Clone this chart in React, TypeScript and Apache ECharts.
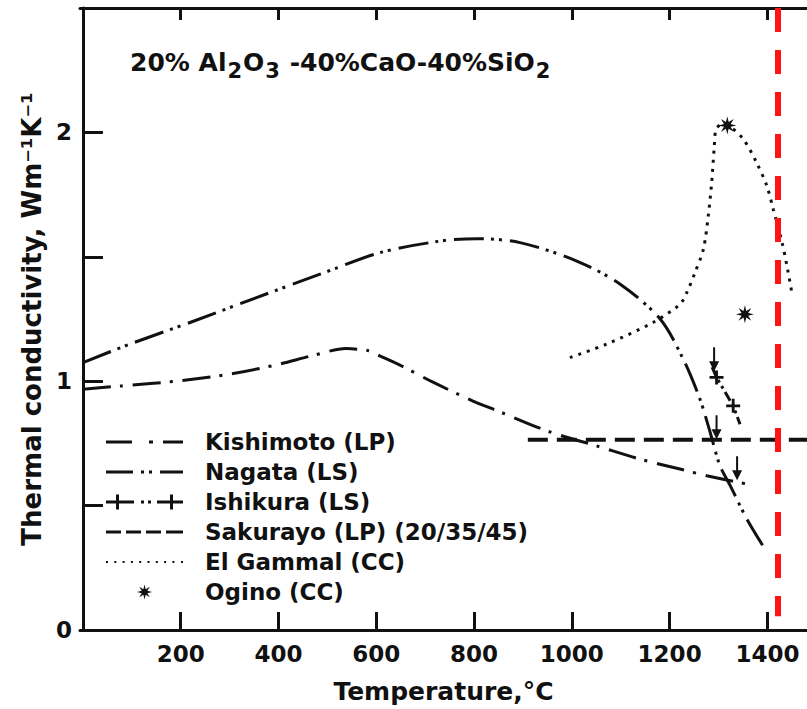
import React, { useEffect, useRef } from "react";
import * as echarts from "echarts";

const FONT = "DejaVu Sans";
const INK = "#111111";

// X tick values and Y tick values
const xTickValues = [200, 400, 600, 800, 1000, 1200, 1400];
const yTickValues = [0, 0.5, 1, 1.5, 2];
const yLabelValues = [0, 1, 2];

// Kishimoto (LP)
const kishimotoT = [0, 80, 196, 299, 401, 468, 538, 585, 607, 653, 716, 798, 849, 951, 1052, 1139, 1221, 1276, 1370];
const kishimotoK = [0.968, 0.981, 1.001, 1.028, 1.068, 1.102, 1.131, 1.122, 1.102, 1.06, 0.996, 0.92, 0.88, 0.799, 0.739, 0.687, 0.647, 0.62, 0.582];

// Nagata (LS)
const nagataT = [0, 96, 219, 355, 485, 608, 730, 805, 894, 1010, 1099, 1181, 1228, 1262, 1283, 1303, 1324, 1358, 1395];
const nagataK = [1.075, 1.149, 1.236, 1.336, 1.43, 1.517, 1.563, 1.573, 1.557, 1.483, 1.39, 1.249, 1.088, 0.928, 0.794, 0.66, 0.58, 0.446, 0.325];

// Ishikura (LS)
const ishikuraT = [1287, 1296, 1330, 1344];
const ishikuraK = [1.056, 1.015, 0.901, 0.827];
const ishikuraMarked = [false, true, true, false];

// Ishikura arrows (tips)
const arrowT = [1291, 1296, 1338];
const arrowK = [1.04, 0.767, 0.602];

// Sakurayo (LP) (20/35/45)
const sakurayoT = [910, 1481];
const sakurayoK = [0.765, 0.765];

// El Gammal (CC)
const gammalT = [996, 1071, 1166, 1221, 1235, 1252, 1269, 1279, 1286, 1291, 1295, 1307, 1323, 1351, 1378, 1399, 1412, 1430, 1440, 1450];
const gammalK = [1.095, 1.149, 1.236, 1.309, 1.356, 1.437, 1.53, 1.664, 1.798, 1.932, 2.012, 2.032, 2.024, 1.972, 1.878, 1.784, 1.691, 1.557, 1.463, 1.356];

// Ogino (CC)
const oginoT = [1318, 1354];
const oginoK = [2.028, 1.269];

// red reference line
const redLineT = 1422;

const seriesNames = [
  "Kishimoto (LP)",
  "Nagata (LS)",
  "Ishikura (LS)",
  "Sakurayo (LP) (20/35/45)",
  "El Gammal (CC)",
  "Ogino (CC)",
];

const pair = (xs: number[], ys: number[]) => xs.map((x, i) => [x, ys[i]]);

const STAR =
  "path://M20 10 L13.7 11.53 L17.07 17.07 L11.53 13.7 L10 20 L8.47 13.7 L2.93 17.07 L6.3 11.53 L0 10 L6.3 8.47 L2.93 2.93 L8.47 6.3 L10 0 L11.53 6.3 L17.07 2.93 L13.7 8.47 Z";
const PLUS = "path://M0 4 H4 V0 H6 V4 H10 V6 H6 V10 H4 V6 H0 Z";
const ARROW = "path://M4 0 H6 V14 H10 L5 24 L0 14 H4 Z";

const legendIcons = [
  "path://M0 0 H26 V3 H0 Z M43 0 H47 V3 H43 Z M57 0 H77 V3 H57 Z",
  "path://M0 0 H27 V3 H0 Z M35 0 H38 V3 H35 Z M43 0 H46 V3 H43 Z M54 0 H77 V3 H54 Z",
  "path://M0 6 H28 V9 H0 Z M10 0 H13 V15 H10 Z M35 6 H38 V9 H35 Z M42 6 H45 V9 H42 Z M51 6 H77 V9 H51 Z M64 0 H67 V15 H64 Z",
  "path://M0 0 H15 V3 H0 Z M20 0 H35 V3 H20 Z M40 0 H55 V3 H40 Z M60 0 H77 V3 H60 Z",
  "path://M0 0 H2 V2 H0 Z M8.3 0 H10.3 V2 H8.3 Z M16.6 0 H18.6 V2 H16.6 Z M24.9 0 H26.9 V2 H24.9 Z M33.2 0 H35.2 V2 H33.2 Z M41.5 0 H43.5 V2 H41.5 Z M49.8 0 H51.8 V2 H49.8 Z M58.1 0 H60.1 V2 H58.1 Z M66.4 0 H68.4 V2 H66.4 Z M75 0 H77 V2 H75 Z",
  STAR,
];

const textBase = { fontFamily: FONT, fontWeight: "bold" as const, color: INK };

export default function App() {
  const ref = useRef<HTMLDivElement>(null);
  useEffect(() => {
    if (!ref.current) return;
    const chart = echarts.init(ref.current, undefined, { renderer: "svg" });
    const xMin = -6;
    const xMax = 1481;
    const plain = (v: number) => String(v);
    const option: any = {
      animation: false,
      backgroundColor: "#ffffff",
      grid: { left: 80, right: 0, top: 8, bottom: 78, containLabel: false },
      legend: {
        orient: "vertical",
        left: 106,
        top: 427,
        padding: 0,
        itemGap: 0,
        itemWidth: 77,
        itemHeight: 15,
        selectedMode: false,
        itemStyle: { borderWidth: 0, opacity: 1 },
        textStyle: { ...textBase, fontSize: 23, lineHeight: 30, padding: [0, 0, 0, 17] },
        data: seriesNames.map((n, i) => ({ name: n, icon: legendIcons[i] })),
      },
      graphic: [
        {
          type: "text",
          left: 130,
          top: 50,
          style: {
            text: "{n|20% Al}{s|2}{n|O}{s|3}{n| -40%CaO-40%SiO}{s|2}",
            fontFamily: FONT,
            fontWeight: "bold",
            fill: INK,
            rich: {
              n: { fontSize: 25, fontWeight: "bold", fontFamily: FONT, fill: INK, lineHeight: 28, verticalAlign: "top" },
              s: { fontSize: 21, fontWeight: "bold", fontFamily: FONT, fill: INK, lineHeight: 24, padding: [10, 1, 0, 1], verticalAlign: "top" },
            },
          },
        },
      ],
      xAxis: [
        {
          type: "value",
          position: "bottom",
          min: xMin,
          max: xMax,
          axisLine: { show: true, lineStyle: { color: INK, width: 3 } },
          axisTick: { show: true, inside: true, length: 18, lineStyle: { color: INK, width: 3 }, customValues: xTickValues },
          axisLabel: { ...textBase, fontSize: 23, margin: 12, customValues: xTickValues, formatter: plain },
          splitLine: { show: false },
          name: "Temperature,°C",
          nameLocation: "middle",
          nameGap: 49,
          nameTextStyle: { ...textBase, fontSize: 25 },
        },
        {
          type: "value",
          position: "top",
          min: xMin,
          max: xMax,
          axisLine: { show: true, lineStyle: { color: INK, width: 3 } },
          axisTick: { show: true, inside: true, length: 12, lineStyle: { color: INK, width: 3 }, customValues: xTickValues },
          axisLabel: { show: false },
          splitLine: { show: false },
        },
      ],
      yAxis: {
        type: "value",
        min: 0,
        max: 2.5,
        axisLine: { show: true, lineStyle: { color: INK, width: 3 } },
        axisTick: { show: true, inside: true, length: 20, lineStyle: { color: INK, width: 3 }, customValues: yTickValues },
        axisLabel: { ...textBase, fontSize: 23, margin: 8, customValues: yLabelValues, formatter: plain },
        splitLine: { show: false },
        name: "Thermal conductivity, Wm⁻¹K⁻¹",
        nameLocation: "middle",
        nameGap: 34,
        nameRotate: 90,
        nameTextStyle: { ...textBase, fontSize: 26 },
      },
      series: [
        {
          name: seriesNames[0],
          type: "line",
          data: pair(kishimotoT, kishimotoK),
          smooth: 0.3,
          symbol: "none",
          color: INK,
          lineStyle: { color: INK, width: 3, type: [28, 9, 3, 10] },
        },
        {
          name: seriesNames[1],
          type: "line",
          data: pair(nagataT, nagataK),
          smooth: 0.3,
          symbol: "none",
          color: INK,
          lineStyle: { color: INK, width: 3, type: [30, 7, 3, 5, 3, 8] },
        },
        {
          name: seriesNames[2],
          type: "line",
          data: ishikuraT.map((t, i) => ({
            value: [t, ishikuraK[i]],
            symbol: ishikuraMarked[i] ? PLUS : "none",
          })),
          symbol: PLUS,
          symbolSize: 14,
          showSymbol: true,
          color: INK,
          itemStyle: { color: INK, opacity: 1 },
          lineStyle: { color: INK, width: 3, type: [10, 4, 3, 4, 3, 4] },
        },
        {
          name: seriesNames[3],
          type: "line",
          data: pair(sakurayoT, sakurayoK),
          symbol: "none",
          color: INK,
          lineStyle: { color: INK, width: 4, type: [20, 9] },
          markLine: {
            silent: true,
            symbol: ["none", "none"],
            label: { show: false },
            lineStyle: { color: "#ff1414", width: 6, type: [24, 18] },
            data: [[{ coord: [redLineT, 2.5] }, { coord: [redLineT, 0.055] }]],
          },
        },
        {
          name: seriesNames[4],
          type: "line",
          data: pair(gammalT, gammalK),
          smooth: 0.3,
          symbol: "none",
          color: INK,
          lineStyle: { color: INK, width: 3, type: [3, 6] },
        },
        {
          name: seriesNames[5],
          type: "scatter",
          data: pair(oginoT, oginoK),
          symbol: STAR,
          symbolSize: 18,
          color: INK,
          itemStyle: { color: INK, opacity: 1 },
        },
        {
          name: "arrows",
          type: "scatter",
          data: pair(arrowT, arrowK),
          symbol: ARROW,
          symbolSize: [10, 24],
          symbolOffset: [0, "-50%"],
          color: INK,
          itemStyle: { color: INK, opacity: 1 },
        },
      ],
    };
    chart.setOption(option);
    return () => chart.dispose();
  }, []);
  return (
    <div
      ref={ref}
      style={{ position: "fixed", left: 0, top: 0, width: 807, height: 709, background: "#fff" }}
    />
  );
}
